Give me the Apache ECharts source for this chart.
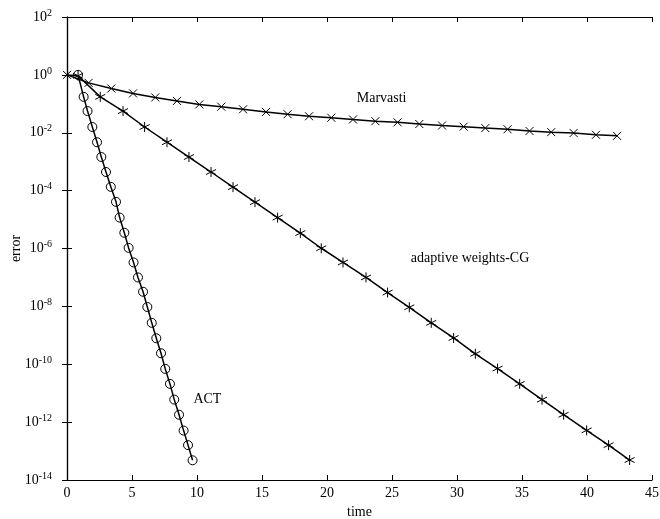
<!DOCTYPE html>
<html>
<head>
<meta charset="utf-8">
<script src="https://cdn.jsdelivr.net/npm/echarts@6/dist/echarts.min.js"></script>
<style>
  html, body { margin: 0; padding: 0; background: #fff; }
  #chart { width: 660px; height: 519px; }
</style>
</head>
<body>
<div id="chart"></div>
<script>
// values
const marvastiTime = [0, 1.66, 3.41, 5.08, 6.79, 8.46, 10.18, 11.87, 13.54, 15.31, 16.97, 18.62, 20.33, 22.0, 23.72, 25.43, 27.1, 28.85, 30.51, 32.18, 33.89, 35.58, 37.25, 38.97, 40.69, 42.31]
const marvastiError = [1, 0.53, 0.339, 0.229, 0.166, 0.126, 0.0955, 0.0794, 0.0646, 0.0525, 0.0437, 0.0372, 0.0331, 0.0288, 0.0251, 0.0229, 0.02, 0.0178, 0.0162, 0.0145, 0.0132, 0.0115, 0.0105, 0.0098, 0.0085, 0.0078]

const cgTime = [0, 0.85, 2.56, 4.31, 5.97, 7.69, 9.38, 11.08, 12.77, 14.46, 16.2, 17.95, 19.56, 21.23, 23.0, 24.66, 26.33, 28.02, 29.74, 31.41, 33.12, 34.82, 36.54, 38.2, 39.97, 41.66, 43.28]
const cgError = [1, 0.93, 0.174, 0.0562, 0.0158, 4.7e-3, 1.45e-3, 4.4e-4, 1.32e-4, 4.0e-5, 1.17e-5, 3.4e-6, 1.02e-6, 3.3e-7, 1.0e-7, 3.0e-8, 9.3e-9, 2.7e-9, 8.1e-10, 2.3e-10, 7.1e-11, 2.1e-11, 6.0e-12, 1.8e-12, 5.2e-13, 1.6e-13, 4.9e-14]

const actTime = [0.85, 1.28, 1.58, 1.95, 2.31, 2.64, 3.0, 3.37, 3.77, 4.05, 4.41, 4.74, 5.12, 5.46, 5.85, 6.18, 6.52, 6.87, 7.23, 7.56, 7.92, 8.25, 8.62, 8.97, 9.31, 9.66]
const actError = [1, 0.174, 0.0562, 0.0158, 4.7e-3, 1.45e-3, 4.4e-4, 1.35e-4, 4.1e-5, 1.17e-5, 3.5e-6, 1.05e-6, 3.3e-7, 1.0e-7, 3.2e-8, 9.5e-9, 2.7e-9, 7.9e-10, 2.4e-10, 6.9e-11, 2.1e-11, 6.0e-12, 1.8e-12, 5.1e-13, 1.6e-13, 4.8e-14]

// where the curve names sit, in data units
const labelMarvasti = [24.2, 0.158]
const labelCG = [31.0, 4.4e-7]
const labelACT = [10.8, 6e-12]

const font = 'Liberation Serif'
const starPath = 'path://M5 0L5 10M0.7 2.5L9.3 7.5M0.7 7.5L9.3 2.5'
const crossPath = 'path://M0 0L10 10M0 10L10 0'

let chart = echarts.init(document.getElementById('chart'))

function pairs(xs, ys) {
    return xs.map((x, i) => [x, ys[i]])
}

function nameLabel(text, coord) {
    return {
        silent: true,
        symbol: 'circle',
        symbolSize: 0,
        data: [{ coord: coord, value: text }],
        label: {
            show: true,
            position: 'inside',
            formatter: text,
            color: '#000',
            fontFamily: font,
            fontSize: 14
        }
    }
}

let cgData = pairs(cgTime, cgError)
cgData[0] = { value: cgData[0], symbol: 'none' }

const axisLine = { show: true, lineStyle: { color: '#000', width: 1.2 } }
const tick = { show: true, inside: true, length: 5, lineStyle: { color: '#000', width: 1 } }

option = {
    animation: false,
    backgroundColor: '#fff',
    grid: { left: 67, right: 8, top: 17, bottom: 39, outerBoundsMode: 'none', containLabel: false },
    xAxis: [{
        type: 'value',
        min: 0, max: 45, interval: 5,
        name: 'time',
        nameLocation: 'middle',
        nameGap: 24,
        nameTextStyle: { fontFamily: font, fontSize: 14, color: '#000' },
        axisLine: axisLine,
        axisTick: tick,
        splitLine: { show: false },
        axisLabel: { margin: 6, fontFamily: font, fontSize: 14, color: '#000' }
    }, {
        type: 'value',
        position: 'top',
        min: 0, max: 45, interval: 5,
        axisLine: axisLine,
        axisTick: tick,
        splitLine: { show: false },
        axisLabel: { show: false }
    }],
    yAxis: [{
        type: 'log',
        min: 1e-14, max: 1e2,
        interval: 2,
        name: 'error',
        nameLocation: 'middle',
        nameGap: 44,
        nameRotate: 90,
        nameMoveOverlap: false,
        nameTextStyle: { fontFamily: font, fontSize: 14, color: '#000' },
        axisLine: axisLine,
        axisTick: tick,
        splitLine: { show: false },
        axisLabel: {
            margin: 15,
            formatter: function (v) {
                return '{b|10}{e|' + Math.round(Math.log10(v)) + '}'
            },
            rich: {
                b: { fontFamily: font, fontSize: 14, color: '#000', lineHeight: 18 },
                e: { fontFamily: font, fontSize: 10, color: '#000', verticalAlign: 'top', lineHeight: 10 }
            }
        }
    }, {
        type: 'log',
        position: 'right',
        min: 1e-14, max: 1e2,
        interval: 2,
        axisLine: axisLine,
        axisTick: tick,
        splitLine: { show: false },
        axisLabel: { show: false }
    }],
    series: [{
        name: 'Marvasti',
        type: 'line',
        data: pairs(marvastiTime, marvastiError),
        symbol: crossPath,
        symbolSize: 8,
        lineStyle: { color: '#000', width: 1.5 },
        itemStyle: { color: 'transparent', borderColor: '#000', borderWidth: 1 },
        markPoint: nameLabel('Marvasti', labelMarvasti)
    }, {
        name: 'adaptive weights-CG',
        type: 'line',
        data: cgData,
        symbol: starPath,
        symbolSize: 10,
        lineStyle: { color: '#000', width: 1.5 },
        itemStyle: { color: 'transparent', borderColor: '#000', borderWidth: 1 },
        markPoint: nameLabel('adaptive weights-CG', labelCG)
    }, {
        name: 'ACT',
        type: 'line',
        data: pairs(actTime, actError),
        symbol: 'circle',
        symbolSize: 9,
        lineStyle: { color: '#000', width: 1.5 },
        itemStyle: { color: 'transparent', borderColor: '#000', borderWidth: 1 },
        markPoint: nameLabel('ACT', labelACT)
    }]
};
chart.setOption(option);
</script>
</body>
</html>
